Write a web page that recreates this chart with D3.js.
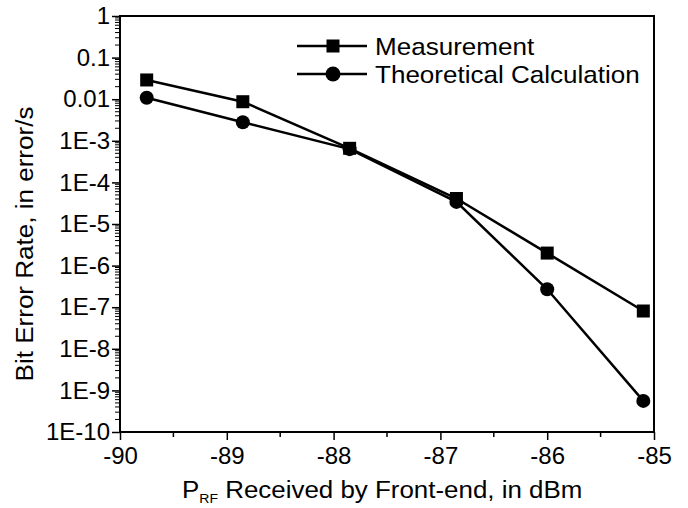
<!DOCTYPE html>
<html><head><meta charset="utf-8">
<script src="https://cdn.jsdelivr.net/npm/d3@7"></script>
<style>body{margin:0;background:#fff}svg{display:block}text{font-family:"Liberation Sans",Arial,sans-serif;fill:#000}</style>
</head><body><svg id="c" width="688" height="508"></svg>
<script>
const xValues = [-89.75, -88.85, -87.85, -86.85, -86.0, -85.1];
const measurement = [0.029, 0.0087, 6.6e-4, 4.1e-5, 2.0e-6, 8.1e-8];
const theoretical = [0.0108, 2.8e-3, 6.3e-4, 3.4e-5, 2.7e-7, 5.6e-10];
const xTicks = [-90, -89, -88, -87, -86, -85];
const yTicks = [1, 0.1, 0.01, 1e-3, 1e-4, 1e-5, 1e-6, 1e-7, 1e-8, 1e-9, 1e-10];
const yTickLabels = ["1","0.1","0.01","1E-3","1E-4","1E-5","1E-6","1E-7","1E-8","1E-9","1E-10"];
const seriesNames = ["Measurement", "Theoretical Calculation"];

const L=120, R=654, T=16, B=432;
const FF = "Liberation Sans, Arial, sans-serif";
const svg = d3.select("#c");
const x = d3.scaleLinear().domain([-90,-85]).range([L,R]);
const y = d3.scaleLog().domain([1e-10,1]).range([B,T]);

// frame
svg.append("rect").attr("x",L).attr("y",T).attr("width",R-L).attr("height",B-T)
  .attr("fill","none").attr("stroke","#000").attr("stroke-width",2);

// x axis
const xAxis = d3.axisBottom(x).tickValues(xTicks).tickSize(8).tickPadding(7).tickFormat(d3.format("d"));
const gx = svg.append("g").attr("transform",`translate(0,${B})`).call(xAxis);
gx.select(".domain").remove();
gx.selectAll("line").attr("stroke","#000").attr("stroke-width",1.5);
gx.selectAll("text").attr("font-size",24).style("font-family",FF).text(d=>String(d));
const xMinor = d3.range(-89.5,-85,1);
svg.append("g").selectAll("line").data(xMinor).join("line")
  .attr("x1",d=>x(d)).attr("x2",d=>x(d)).attr("y1",B).attr("y2",B+5)
  .attr("stroke","#000").attr("stroke-width",1.5);

// y axis
const yAxis = d3.axisLeft(y).tickValues(yTicks).tickSize(8).tickPadding(2)
  .tickFormat((d,i)=>yTickLabels[i]);
const gy = svg.append("g").attr("transform",`translate(${L},0)`).call(yAxis);
gy.select(".domain").remove();
gy.selectAll("line").attr("stroke","#000").attr("stroke-width",1.5);
gy.selectAll("text").attr("font-size",24).style("font-family",FF);
const yMinor = [];
for (let e=-10;e<0;e++) for (let m=2;m<10;m++) yMinor.push(m*Math.pow(10,e));
svg.append("g").selectAll("line").data(yMinor).join("line")
  .attr("x1",L-5).attr("x2",L).attr("y1",d=>y(d)).attr("y2",d=>y(d))
  .attr("stroke","#000").attr("stroke-width",1);

// lines
const line = d3.line().x(d=>x(d[0])).y(d=>y(d[1]));
const mData = xValues.map((v,i)=>[v,measurement[i]]);
const tData = xValues.map((v,i)=>[v,theoretical[i]]);
[mData,tData].forEach(dd=>{
  svg.append("path").datum(dd).attr("d",line).attr("fill","none")
    .attr("stroke","#000").attr("stroke-width",2.5);
});
svg.append("g").selectAll("rect").data(mData).join("rect")
  .attr("x",d=>x(d[0])-6.5).attr("y",d=>y(d[1])-6.5).attr("width",13).attr("height",13).attr("fill","#000");
svg.append("g").selectAll("circle").data(tData).join("circle")
  .attr("cx",d=>x(d[0])).attr("cy",d=>y(d[1])).attr("r",7).attr("fill","#000");

// legend
const lg = svg.append("g");
[0,1].forEach(i=>{
  const ly = 46 + i*28;
  lg.append("line").attr("x1",297).attr("x2",367).attr("y1",ly).attr("y2",ly).attr("stroke","#000").attr("stroke-width",2.5);
  if(i===0) lg.append("rect").attr("x",333-6.5).attr("y",ly-6.5).attr("width",13).attr("height",13).attr("fill","#000");
  else lg.append("circle").attr("cx",333).attr("cy",ly).attr("r",7.5).attr("fill","#000");
  lg.append("g").attr("transform",`translate(375,${ly+8.5}) scale(1.085,1)`)
    .append("text").attr("font-size",24).text(seriesNames[i]);
});

// axis titles
svg.append("g").attr("transform","translate(33,244) rotate(-90) scale(1.085,1)")
  .append("text").attr("text-anchor","middle").attr("font-size",24).text("Bit Error Rate, in error/s");
const xt = svg.append("g").attr("transform","translate(182,498) scale(1.08,1)")
  .append("text").attr("font-size",24);
xt.append("tspan").text("P");
xt.append("tspan").attr("font-size",13).attr("dy",5).text("RF");
xt.append("tspan").attr("dy",-5).text(" Received by Front-end, in dBm");
</script></body></html>
